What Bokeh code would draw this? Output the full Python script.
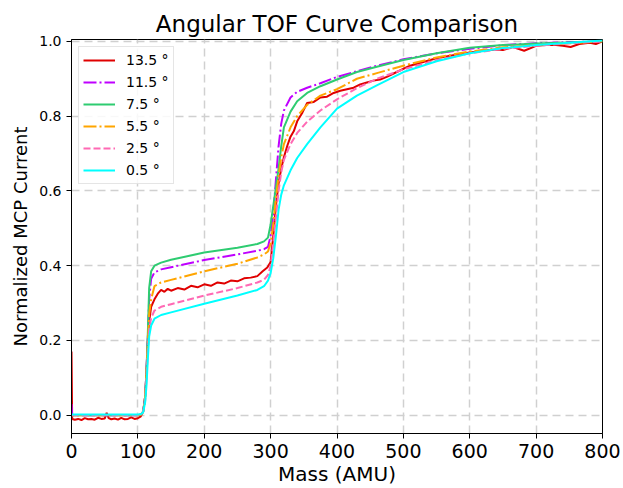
from bokeh.plotting import figure
from bokeh.models import Range1d, FixedTicker, Legend, LegendItem, CustomJSTickFormatter
from bokeh.embed import file_html
from bokeh.resources import INLINE

# ---- data ----
mass = [0, 1, 50, 100, 105, 108, 111, 113, 115, 117, 120, 125, 135, 150, 200, 250, 280, 290, 296,
        300, 304, 308, 312, 316, 320, 330, 340, 355, 375, 400, 430, 460, 500, 550, 600, 650, 700, 750, 800]

ang_11_5 = [0.03, 0.0, 0.0, 0.0, 0.002, 0.01, 0.05, 0.12, 0.21, 0.31, 0.365, 0.382, 0.39, 0.396, 0.415, 0.43, 0.44, 0.444, 0.45,
            0.48, 0.54, 0.63, 0.72, 0.78, 0.815, 0.85, 0.865, 0.876, 0.888, 0.905, 0.92, 0.935, 0.952, 0.968, 0.98, 0.99, 0.995, 0.998, 1.0]
ang_7_5 = [0.0, 0.0, 0.0, 0.0, 0.002, 0.01, 0.05, 0.12, 0.22, 0.34, 0.385, 0.40, 0.408, 0.416, 0.435, 0.448, 0.458, 0.465, 0.475,
           0.51, 0.56, 0.61, 0.66, 0.72, 0.77, 0.812, 0.84, 0.862, 0.88, 0.898, 0.918, 0.932, 0.95, 0.968, 0.983, 0.99, 0.994, 0.997, 1.0]
ang_5_5 = [0.0, 0.0, 0.0, 0.0, 0.002, 0.01, 0.05, 0.11, 0.19, 0.27, 0.31, 0.345, 0.355, 0.362, 0.385, 0.405, 0.422, 0.43, 0.438,
           0.46, 0.51, 0.58, 0.64, 0.69, 0.725, 0.77, 0.80, 0.83, 0.855, 0.872, 0.90, 0.915, 0.935, 0.957, 0.973, 0.984, 0.99, 0.995, 1.0]
ang_2_5 = [0.0, 0.0, 0.0, 0.0, 0.002, 0.01, 0.04, 0.10, 0.17, 0.23, 0.26, 0.28, 0.29, 0.297, 0.32, 0.34, 0.355, 0.362, 0.375,
           0.40, 0.46, 0.53, 0.60, 0.65, 0.683, 0.725, 0.755, 0.785, 0.815, 0.845, 0.875, 0.90, 0.925, 0.95, 0.968, 0.98, 0.988, 0.995, 1.0]
ang_0_5 = [0.002, 0.002, 0.002, 0.002, 0.003, 0.008, 0.035, 0.08, 0.15, 0.21, 0.24, 0.258, 0.268, 0.275, 0.298, 0.32, 0.335, 0.345, 0.36,
           0.38, 0.42, 0.48, 0.55, 0.59, 0.615, 0.655, 0.688, 0.725, 0.77, 0.82, 0.855, 0.882, 0.918, 0.947, 0.968, 0.982, 0.99, 0.996, 1.002]

mass_13_5 = [0, 1, 5, 10, 15, 20, 25, 30, 35, 40, 45, 50, 53, 56, 60, 65, 70, 75, 80, 85, 90, 95, 100, 104, 108, 111, 113, 115, 117,
             120, 125, 130, 135, 140, 145, 150, 160, 170, 180, 190, 200, 210, 220, 230, 240, 250, 260, 270, 280, 288, 295,
             300, 304, 308, 312, 316, 320, 325, 330, 335, 340, 348, 355, 365, 375, 385, 395, 405, 415, 425, 435, 445, 455, 465, 475,
             490, 510, 530, 550, 575, 600, 625, 640, 650, 665, 682, 700, 715, 730, 740, 752, 765, 781, 790, 800]
ang_13_5 = [0.17, -0.01, -0.012, -0.01, -0.013, -0.008, -0.011, -0.01, -0.012, -0.007, -0.01, -0.009, 0.006, -0.008, -0.011, -0.009,
            -0.012, -0.007, -0.011, -0.01, -0.006, -0.01, -0.008, -0.004, 0.01, 0.05, 0.12, 0.20, 0.25,
            0.29, 0.31, 0.325, 0.335, 0.33, 0.338, 0.333, 0.34, 0.336, 0.346, 0.342, 0.35, 0.346, 0.355, 0.352, 0.36, 0.358, 0.366,
            0.368, 0.372, 0.385, 0.395,
            0.41, 0.48, 0.56, 0.62, 0.66, 0.69, 0.72, 0.745, 0.76, 0.786, 0.81, 0.835, 0.838, 0.85, 0.852, 0.862, 0.868, 0.872, 0.876,
            0.885, 0.89, 0.895, 0.898, 0.905,
            0.918, 0.935, 0.945, 0.955, 0.963, 0.97, 0.976, 0.978, 0.977, 0.985, 0.975, 0.988, 0.99, 0.99, 0.988, 0.985, 0.993, 0.996,
            0.993, 1.0]

labels = ["13.5 °", "11.5 °", "7.5 °", "5.5 °", "2.5 °", "0.5 °"]
x_ticks = [0, 100, 200, 300, 400, 500, 600, 700, 800]
y_ticks = [0.0, 0.2, 0.4, 0.6, 0.8, 1.0]

FONT = "DejaVu Sans"

p = figure(width=623, height=488, output_backend="svg", toolbar_location=None,
           x_range=Range1d(0, 800), y_range=Range1d(-0.049, 1.005),
           title="Angular TOF Curve Comparison",
           min_border_left=71, min_border_right=21, min_border_bottom=55, min_border_top=39)

p.title.text_font = FONT
p.title.text_font_size = "23px"
p.title.text_font_style = "normal"
p.title.text_color = "black"
p.title.align = "center"
p.title.standoff = 6

series = [
    (mass_13_5, ang_13_5, "#e00000", "solid"),
    (mass, ang_11_5, "#bf00ff", "13 3 2 3"),
    (mass, ang_7_5, "#2ecc71", "solid"),
    (mass, ang_5_5, "#ffa500", "13 3 2 3"),
    (mass, ang_2_5, "#ff69b4", "7 3"),
    (mass, ang_0_5, "#00ffff", "solid"),
]

items = []
for (xs, ys, col, dash), lab in zip(series, labels):
    r = p.line(xs, ys, line_color=col, line_width=2, line_dash=dash)
    items.append(LegendItem(label=lab, renderers=[r]))

legend = Legend(items=items, location="top_left")
legend.label_text_font = FONT
legend.label_text_font_size = "14px"
legend.label_text_color = "black"
legend.glyph_width = 32
legend.glyph_height = 18
legend.label_height = 18
legend.label_standoff = 11
legend.spacing = 4
legend.padding = 4
legend.margin = 7
legend.border_line_color = "#cccccc"
legend.border_line_width = 1
legend.background_fill_alpha = 0.85
p.add_layout(legend)

for ax in (p.xaxis, p.yaxis):
    ax.axis_line_color = "black"
    ax.major_tick_line_color = "black"
    ax.minor_tick_line_color = None
    ax.major_tick_out = 5
    ax.major_tick_in = 0
    ax.major_label_text_font = FONT
    ax.major_label_text_color = "black"
    ax.axis_label_text_font = FONT
    ax.axis_label_text_font_style = "normal"
    ax.axis_label_text_color = "black"

p.xaxis.major_label_text_font_size = "19px"
p.yaxis.major_label_text_font_size = "14px"
p.xaxis.axis_label_text_font_size = "20px"
p.yaxis.axis_label_text_font_size = "18px"
p.xaxis.major_label_standoff = 5
p.xaxis.axis_label_standoff = 1

p.xaxis.ticker = FixedTicker(ticks=x_ticks)
p.yaxis.ticker = FixedTicker(ticks=y_ticks)
p.yaxis.formatter = CustomJSTickFormatter(code="return tick.toFixed(1);")
p.xaxis.axis_label = "Mass (AMU)"
p.yaxis.axis_label = "Normalized MCP Current"

for g in (p.xgrid, p.ygrid):
    g.grid_line_color = "#d0d0d0"
    g.grid_line_width = 1.5
    g.grid_line_dash = "8 5"

p.outline_line_color = "black"
p.outline_line_width = 1
p.background_fill_color = "white"
p.border_fill_color = "white"

open("out.html", "w").write(file_html(p, INLINE))
